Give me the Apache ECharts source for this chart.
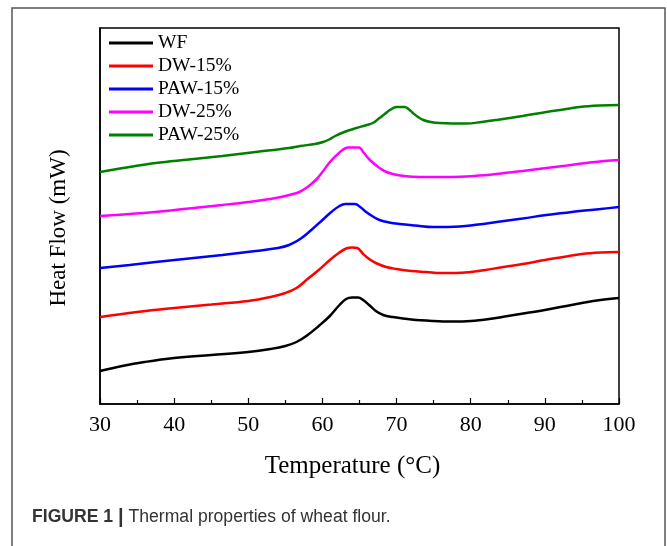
<!DOCTYPE html>
<html>
<head>
<meta charset="utf-8">
<script src="https://cdn.jsdelivr.net/npm/echarts@6/dist/echarts.min.js"></script>
<style>
  html, body { margin: 0; padding: 0; background: #fff; }
  #chart { width: 667px; height: 546px; }
</style>
</head>
<body>
<div id="chart"></div>
<script>
// temperature (°C) vs heat flow (arbitrary units, curves offset)
const seriesNames = ['WF', 'DW-15%', 'PAW-15%', 'DW-25%', 'PAW-25%'];
const seriesColors = ['#000000', '#ff0000', '#0000ff', '#ff00ff', '#007f00'];
const xTicks = [30, 40, 50, 60, 70, 80, 90, 100];

const wf = [
  [30, 3.3], [33, 3.8], [36, 4.2], [40, 4.6], [45, 4.9], [50, 5.2], [53, 5.5],
  [55, 5.8], [56.5, 6.2], [58, 6.9], [59.5, 7.8], [61, 8.8], [62.3, 9.9],
  [63.2, 10.5], [64, 10.65], [64.8, 10.65], [65.5, 10.4], [66.3, 9.9], [67.2, 9.3],
  [68.2, 8.9], [69.5, 8.7], [72, 8.45], [75, 8.3], [77.5, 8.25], [80, 8.3],
  [82.5, 8.5], [85, 8.8], [87.5, 9.1], [90, 9.4], [92.5, 9.75], [95, 10.1],
  [97.5, 10.4], [100, 10.6]
];
const dw15 = [
  [30, 8.7], [35, 9.2], [40, 9.6], [45, 9.95], [50, 10.3], [53, 10.7], [55, 11.1],
  [56.5, 11.6], [58, 12.5], [59.5, 13.4], [61, 14.4], [62.2, 15.1], [63.2, 15.55],
  [64, 15.65], [64.7, 15.6], [65.5, 15.0], [66.3, 14.5], [67.2, 14.1], [68.6, 13.7],
  [70, 13.5], [72, 13.3], [74, 13.2], [76, 13.1], [78, 13.1], [80, 13.2], [82, 13.4],
  [84, 13.65], [87, 14.0], [90, 14.4], [92.5, 14.7], [95, 15.0], [97.5, 15.15],
  [100, 15.2]
];
const paw15 = [
  [30, 13.6], [34, 13.9], [37.5, 14.2], [42, 14.55], [46.5, 14.9], [51, 15.3],
  [54, 15.6], [55.5, 15.9], [57, 16.5], [58.5, 17.4], [60, 18.4], [61.2, 19.2],
  [62.2, 19.75], [63.1, 20.0], [64.4, 20.0], [65.1, 19.7], [65.9, 19.2], [66.8, 18.75],
  [67.7, 18.4], [69, 18.15], [70.4, 18.0], [72.5, 17.85], [75, 17.7], [78.5, 17.75],
  [81, 17.95], [83.5, 18.2], [87, 18.55], [90.2, 18.9], [92.5, 19.1], [94.7, 19.3],
  [97.5, 19.5], [100, 19.7]
];
const dw25 = [
  [30, 18.8], [34, 19.0], [37.5, 19.2], [42, 19.55], [46.5, 19.9], [50, 20.2],
  [53.7, 20.6], [55.5, 20.9], [56.9, 21.2], [58, 21.7], [59.1, 22.4], [60, 23.2],
  [60.9, 24.1], [61.8, 24.8], [62.7, 25.4], [63.5, 25.65], [64.9, 25.65], [65.6, 25.1],
  [66.4, 24.4], [67.7, 23.6], [68.5, 23.25], [69.5, 23.0], [71, 22.8], [73.1, 22.7],
  [77.6, 22.7], [80.5, 22.8], [83.5, 23.0], [87, 23.3], [90.2, 23.6], [93, 23.85],
  [95.6, 24.1], [98, 24.3], [100, 24.4]
];
const paw25 = [
  [30, 23.2], [34, 23.7], [37.5, 24.1], [42, 24.45], [46.5, 24.8], [51, 25.2],
  [55.5, 25.6], [57, 25.8], [59, 26.0], [60.1, 26.2], [60.9, 26.45], [61.6, 26.75],
  [62.3, 27.0], [63.5, 27.35], [64.6, 27.6], [66, 27.9], [66.8, 28.1], [67.7, 28.6],
  [68.4, 29.0], [69.1, 29.4], [70, 29.7], [71.1, 29.7], [71.6, 29.5], [72.2, 29.1],
  [72.9, 28.7], [73.6, 28.4], [74.6, 28.2], [75.8, 28.1], [79.4, 28.05], [81.5, 28.2],
  [83.5, 28.4], [87, 28.8], [90.2, 29.2], [92.5, 29.45], [94.7, 29.7], [97.5, 29.85],
  [100, 29.9]
];
const allData = [wf, dw15, paw15, dw25, paw25];

const serif = '"Liberation Serif", "Times New Roman", serif';
const sans = '"Liberation Sans", Arial, sans-serif';
const chart = echarts.init(document.getElementById('chart'));

chart.setOption({
  animation: false,
  backgroundColor: '#fff',
  title: {
    left: 27,
    top: 502,
    text: '{b|FIGURE 1} {bar||} Thermal properties of wheat flour.',
    textStyle: {
      fontFamily: sans,
      fontSize: 17.6,
      fontWeight: 'normal',
      color: '#333',
      rich: {
        b: { fontWeight: 'bold', fontSize: 17.6, color: '#333', fontFamily: sans },
        bar: { fontWeight: 'bold', fontSize: 20, color: '#333', fontFamily: sans }
      }
    }
  },
  graphic: [{
    type: 'rect',
    shape: { x: 12, y: 8, width: 653, height: 600 },
    style: { fill: 'none', stroke: '#555', lineWidth: 1.5 },
    silent: true
  }],
  legend: {
    orient: 'vertical',
    left: 109,
    top: 33,
    padding: 0,
    icon: 'rect',
    itemWidth: 44,
    itemHeight: 3,
    itemGap: 3,
    data: seriesNames,
    textStyle: { fontFamily: serif, fontSize: 19.5, color: '#000', lineHeight: 19 }
  },
  grid: {
    left: 100, right: 48, top: 28, bottom: 142,
    show: true, borderColor: '#000', borderWidth: 1.5
  },
  xAxis: {
    type: 'value',
    min: 30, max: 100, interval: 10,
    name: 'Temperature (°C)',
    nameLocation: 'middle',
    nameGap: 50,
    nameTextStyle: { fontFamily: serif, fontSize: 25, color: '#000', padding: [0, 14, 0, 0] },
    axisLine: { lineStyle: { color: '#000', width: 1.5 } },
    axisTick: { inside: true, length: 6, lineStyle: { color: '#000', width: 1.2 } },
    minorTick: { show: true, splitNumber: 2, length: 4, lineStyle: { color: '#000', width: 1.2 } },
    axisLabel: {
      margin: 10, fontFamily: serif, fontSize: 22, color: '#000',
      formatter: v => xTicks.includes(v) ? String(v) : ''
    },
    splitLine: { show: false }
  },
  yAxis: {
    type: 'value',
    min: 0, max: 37.6,
    name: 'Heat Flow (mW)',
    nameLocation: 'middle',
    nameGap: 30,
    nameTextStyle: { fontFamily: serif, fontSize: 23, color: '#000', padding: [0, 24, 0, 0] },
    axisLine: { lineStyle: { color: '#000', width: 1.5 } },
    axisTick: { show: false },
    axisLabel: { show: false },
    splitLine: { show: false }
  },
  series: allData.map((d, i) => ({
    name: seriesNames[i],
    type: 'line',
    data: d,
    symbol: 'none',
    smooth: 0.4,
    lineStyle: { color: seriesColors[i], width: 2.5 },
    itemStyle: { color: seriesColors[i] }
  }))
});
</script>
</body>
</html>
